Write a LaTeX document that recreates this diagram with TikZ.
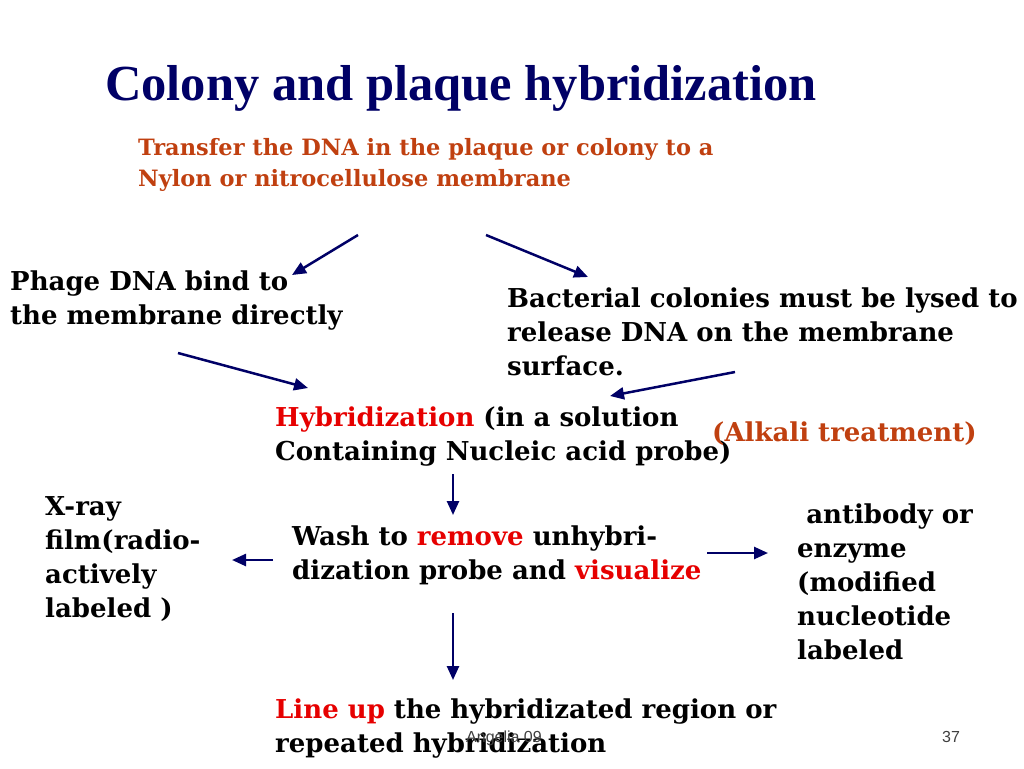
\documentclass[tikz,border=0pt]{standalone}
\usepackage{fontspec}
\setmainfont{DejaVu Serif}
\newfontfamily\titlefont{Liberation Serif}
\newfontfamily\footfont{Liberation Sans}
\usetikzlibrary{arrows.meta}
\definecolor{navy}{RGB}{0,0,102}
\definecolor{rust}{RGB}{192,64,16}
\definecolor{hred}{RGB}{230,0,0}
\tikzset{
  txt/.style={anchor=north west,inner sep=0pt,align=left,font=\bfseries\fontsize{26}{34}\selectfont},
  arr/.style={-{Triangle[length=14pt,width=12pt]},line width=2.5pt,navy}
}
\begin{document}
\begin{tikzpicture}[x=1pt,y=-1pt]
\useasboundingbox (0,0) rectangle (1024,768);
\node[anchor=base west,inner sep=0pt,text=navy,font=\titlefont\bfseries\fontsize{50.5}{56}\selectfont] (title) at (105,100) {Colony and plaque hybridization};
\node[txt,text=rust,font=\bfseries\fontsize{22.5}{31}\selectfont] (transfer) at (138,138) {Transfer the DNA in the plaque or colony to a\\Nylon or nitrocellulose membrane};
\node[txt] (phage) at (10,271) {Phage DNA bind to\\the membrane directly};
\node[txt] (bact) at (507,288) {Bacterial colonies must be lysed to\\release DNA on the membrane\\surface.};
\node[txt] (hyb) at (275,407) {\textcolor{hred}{Hybridization} (in a solution\\Containing Nucleic acid probe)};
\node[txt,text=rust] (alk) at (712,422) {(Alkali treatment)};
\node[txt] (xray) at (45,496) {X-ray\\film(radio-\\actively\\labeled )};
\node[txt] (wash) at (292,526) {Wash to \textcolor{hred}{remove} unhybri-\\dization probe and \textcolor{hred}{visualize}};
\node[txt] (anti) at (797,504) {\ antibody or\\enzyme\\(modified\\nucleotide\\labeled};
\node[txt] (line) at (275,699) {\textcolor{hred}{Line up} the hybridizated region or\\repeated hybridization};
\node[anchor=base west,inner sep=0pt,text=black!75,font=\footfont\fontsize{16}{18}\selectfont] (foot) at (466,742) {Angelia 09};
\node[anchor=base west,inner sep=0pt,text=black!75,font=\footfont\fontsize{16}{18}\selectfont] (page) at (942,742) {37};
\coordinate (a1) at (358,235); \coordinate (b1) at (292,275);
\coordinate (a2) at (486,235); \coordinate (b2) at (588,277);
\coordinate (a3) at (178,353); \coordinate (b3) at (308,388);
\coordinate (a4) at (735,372); \coordinate (b4) at (610,396);
\coordinate (a5) at (453,474); \coordinate (b5) at (453,515);
\coordinate (a6) at (273,560); \coordinate (b6) at (232,560);
\coordinate (a7) at (707,553); \coordinate (b7) at (768,553);
\coordinate (a8) at (453,613); \coordinate (b8) at (453,680);
\foreach \i in {1,...,8} \draw[arr] (a\i) -- (b\i);
\end{tikzpicture}
\end{document}
